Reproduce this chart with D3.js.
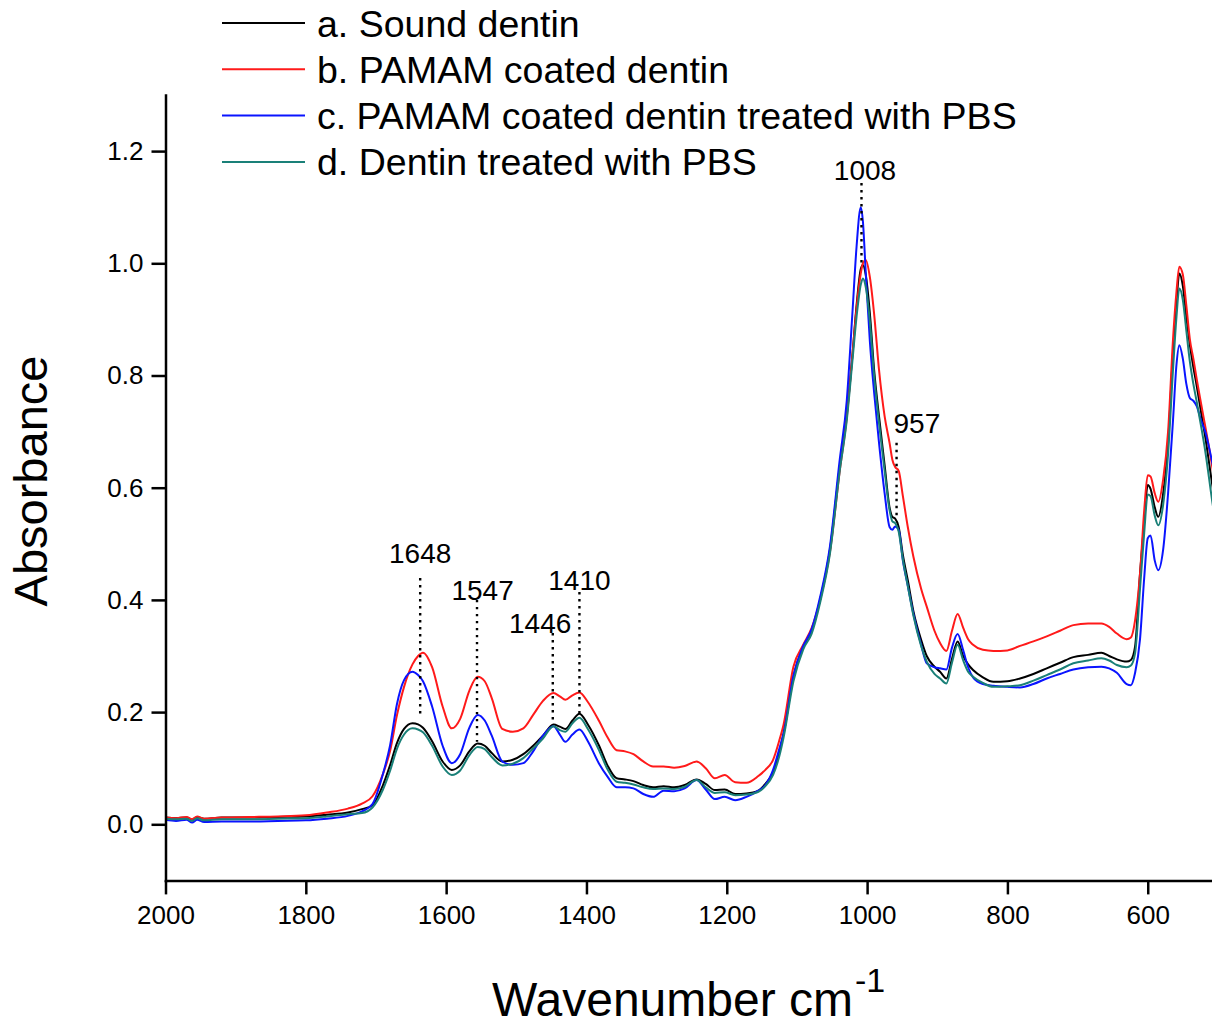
<!DOCTYPE html>
<html>
<head>
<meta charset="utf-8">
<script src="https://cdn.jsdelivr.net/npm/d3@7"></script>
<style>
  body { margin: 0; background: #fff; }
  svg { display: block; font-family: "Liberation Sans", Arial, sans-serif; }
  .axis path, .axis line { stroke: #000; stroke-width: 2.5; }
  .axis text { font-size: 26px; fill: #000; font-family: "Liberation Sans", Arial, sans-serif; }
  .spectrum { fill: none; stroke-width: 2; stroke-linejoin: round; }
</style>
</head>
<body>
<div id="chart"></div>
<script>
// wavenumber grid (cm-1)
const wavenumbers = [
  2000, 1985, 1970, 1962, 1955, 1945, 1920, 1880, 1840, 1800,
  1770, 1740, 1720, 1705, 1690, 1680, 1670, 1660, 1648, 1640,
  1633, 1620, 1605, 1592, 1580, 1567, 1555, 1545, 1535, 1520,
  1505, 1490, 1476, 1462, 1447, 1438, 1430, 1420, 1410, 1398,
  1382, 1370, 1357, 1345, 1333, 1319, 1305, 1290, 1275, 1260,
  1243, 1230, 1217, 1203, 1188, 1172, 1155, 1145, 1134, 1125,
  1119, 1105, 1091, 1079, 1067, 1053, 1039, 1029, 1021, 1015,
  1009, 1006, 1002, 996, 990, 983, 975, 968, 964, 960,
  955, 949, 942, 934, 923, 915, 904, 896, 887, 879,
  871, 863, 856, 849, 835, 820, 800, 782, 763, 744,
  725, 706, 685, 666, 655, 644, 630, 624, 618, 611,
  605, 600, 596, 590, 585, 578, 571, 564, 559, 555,
  550, 545, 540, 535, 530, 524, 518, 508, 500
];

// a. Sound dentin
const soundDentin = [
  .012, .011, .012, .008, .013, .010, .012, .012, .013, .014,
  .017, .021, .027, .034, .070, .105, .145, .170, .180, .178,
  .172, .148, .112, .097, .105, .130, .144, .140, .127, .112,
  .115, .125, .140, .158, .178, .174, .170, .185, .197, .178,
  .140, .105, .082, .080, .077, .070, .066, .068, .066, .070,
  .080, .072, .061, .062, .054, .055, .060, .072, .093, .130,
  .162, .263, .317, .346, .400, .489, .637, .730, .835, .925,
  .990, .997, .980, .910, .810, .727, .640, .565, .548, .545,
  .530, .480, .435, .380, .329, .300, .281, .272, .260, .295,
  .326, .300, .285, .275, .262, .254, .255, .260, .268, .278,
  .288, .298, .302, .306, .300, .294, .290, .293, .317, .447,
  .540, .605, .598, .565, .548, .590, .680, .840, .930, .982,
  .960, .905, .855, .815, .780, .735, .690, .605, .540
];

// b. PAMAM coated dentin
const pamamCoated = [
  .012, .011, .013, .009, .014, .010, .012, .013, .014, .016,
  .021, .028, .037, .050, .090, .130, .195, .245, .285, .300,
  .306, .280, .210, .171, .188, .238, .263, .255, .225, .170,
  .165, .171, .195, .220, .234, .228, .222, .230, .235, .218,
  .184, .155, .132, .130, .125, .112, .103, .103, .101, .104,
  .112, .100, .082, .088, .075, .074, .086, .097, .115, .150,
  .178, .281, .320, .350, .400, .485, .630, .725, .835, .920,
  .982, 1.000, 1.006, .975, .910, .810, .727, .680, .650, .637,
  .630, .585, .530, .477, .420, .388, .345, .323, .309, .345,
  .375, .350, .330, .320, .311, .309, .310, .318, .326, .335,
  .345, .355, .358, .358, .352, .340, .330, .333, .364, .447,
  .560, .622, .620, .590, .575, .615, .700, .864, .950, .994,
  .980, .925, .865, .830, .792, .750, .709, .637, .570
];

// c. PAMAM coated dentin treated with PBS
const pamamPBS = [
  .008, .006, .008, .003, .008, .004, .005, .005, .006, .007,
  .010, .015, .023, .036, .090, .140, .215, .257, .272, .266,
  .255, .210, .140, .109, .125, .172, .195, .185, .158, .112,
  .106, .109, .130, .158, .175, .160, .147, .160, .169, .148,
  .108, .085, .066, .066, .064, .054, .049, .060, .059, .064,
  .079, .062, .045, .049, .043, .049, .060, .070, .097, .135,
  .162, .265, .318, .348, .405, .495, .650, .755, .910, 1.030,
  1.100, 1.075, .985, .860, .770, .680, .590, .530, .525, .531,
  .525, .470, .425, .375, .320, .287, .280, .278, .276, .315,
  .339, .310, .280, .262, .250, .247, .245, .244, .250, .260,
  .268, .276, .280, .281, .278, .270, .250, .248, .270, .330,
  .440, .510, .515, .470, .453, .490, .590, .720, .820, .854,
  .830, .785, .760, .755, .745, .720, .700, .645, .600
];

// d. Dentin treated with PBS
const dentinPBS = [
  .010, .009, .010, .006, .011, .007, .009, .009, .010, .011,
  .014, .018, .020, .030, .062, .095, .135, .160, .171, .169,
  .164, .140, .103, .088, .096, .123, .138, .134, .120, .105,
  .108, .118, .135, .153, .175, .168, .165, .180, .190, .170,
  .132, .098, .076, .074, .071, .066, .063, .064, .063, .067,
  .079, .066, .056, .057, .052, .053, .058, .068, .088, .122,
  .155, .255, .312, .340, .395, .482, .630, .720, .825, .905,
  .962, .973, .958, .895, .800, .715, .630, .560, .540, .537,
  .522, .472, .425, .372, .318, .290, .268, .260, .251, .288,
  .320, .292, .272, .263, .252, .245, .246, .248, .256, .266,
  .276, .287, .292, .296, .292, .284, .280, .283, .305, .420,
  .520, .588, .585, .550, .533, .570, .660, .810, .905, .955,
  .935, .880, .825, .785, .752, .710, .665, .575, .510
];

const seriesNames = [
  "a. Sound dentin",
  "b. PAMAM coated dentin",
  "c. PAMAM coated dentin treated with PBS",
  "d. Dentin treated with PBS"
];
const seriesValues = [soundDentin, pamamCoated, pamamPBS, dentinPBS];
const seriesColors = ["#000000", "#ff1a1a", "#0a14ff", "#1a8078"];

// peak annotations: label, wavenumber of dotted line, its top/bottom, label anchor
const peakLabels = ["1648", "1547", "1446", "1410", "1008", "957"];
const peakLineX = [1637, 1556, 1448, 1410, 1008, 958];
const peakLineTop = [0.439, 0.400, 0.341, 0.414, 1.143, 0.680];
const peakLineBottom = [0.190, 0.147, 0.186, 0.191, 1.001, 0.548];
const peakLabelX = [1637, 1548, 1466, 1410, 1003, 929];
const peakLabelY = [0.466, 0.400, 0.341, 0.417, 1.148, 0.698];


SpectraChart = function(_parentElement) {
  this.parentElement = _parentElement;
  this.initVis();
};

SpectraChart.prototype.initVis = function() {
  let vis = this;

  vis.margin = { top: 95, left: 165.5 };
  vis.width = 1052.4;
  vis.height = 785.4;

  vis.svg = d3.select("#" + vis.parentElement).append("svg")
    .attr("width", 1212)
    .attr("height", 1025)
    .append("g")
    .attr("transform", "translate(" + vis.margin.left + "," + vis.margin.top + ")");

  // Scales (x reversed, like an IR spectrum)
  vis.x = d3.scaleLinear()
    .domain([2000, 500])
    .range([0, vis.width]);

  vis.y = d3.scaleLinear()
    .domain([-0.1, 1.3])
    .range([vis.height, 0]);

  vis.xAxis = d3.axisBottom(vis.x)
    .tickValues(d3.range(2000, 500, -200))
    .tickFormat(d3.format("d"))
    .tickSize(14)
    .tickSizeOuter(0)
    .tickPadding(11);

  vis.xMinor = d3.axisBottom(vis.x)
    .tickValues(d3.range(1900, 400, -200))
    .tickFormat("")
    .tickSize(7)
    .tickSizeOuter(0);

  vis.yAxis = d3.axisLeft(vis.y)
    .tickValues(d3.range(0, 7).map(function(d) { return d * 0.2; }))
    .tickFormat(d3.format(".1f"))
    .tickSize(14)
    .tickSizeOuter(0)
    .tickPadding(8);

  vis.yMinor = d3.axisLeft(vis.y)
    .tickValues(d3.range(-1, 14, 2).map(function(d) { return d / 10; }))
    .tickFormat("")
    .tickSize(7)
    .tickSizeOuter(0);

  vis.line = d3.line()
    .x(function(d) { return vis.x(d.w); })
    .y(function(d) { return vis.y(d.v); })
    .curve(d3.curveMonotoneX);

  vis.wrangleData();
};

SpectraChart.prototype.wrangleData = function() {
  let vis = this;

  vis.displayData = seriesNames.map(function(name, i) {
    return {
      name: name,
      color: seriesColors[i],
      values: wavenumbers.map(function(w, j) {
        return { w: w, v: seriesValues[i][j] };
      })
    };
  });

  vis.peaks = peakLabels.map(function(label, i) {
    return {
      label: label,
      x: peakLineX[i],
      top: peakLineTop[i],
      bottom: peakLineBottom[i],
      lx: peakLabelX[i],
      ly: peakLabelY[i]
    };
  });

  vis.updateVis();
};

SpectraChart.prototype.updateVis = function() {
  let vis = this;

  // spectra
  vis.svg.selectAll(".spectrum")
    .data(vis.displayData)
    .enter().append("path")
    .attr("class", "spectrum")
    .attr("stroke", function(d) { return d.color; })
    .attr("d", function(d) { return vis.line(d.values); });

  // dotted peak markers
  vis.svg.selectAll(".peak-line")
    .data(vis.peaks)
    .enter().append("line")
    .attr("class", "peak-line")
    .attr("x1", function(d) { return vis.x(d.x); })
    .attr("x2", function(d) { return vis.x(d.x); })
    .attr("y1", function(d) { return vis.y(d.top); })
    .attr("y2", function(d) { return vis.y(d.bottom); })
    .attr("stroke", "#000")
    .attr("stroke-width", 2.4)
    .attr("stroke-dasharray", "2.4,4.6");

  vis.svg.selectAll(".peak-label")
    .data(vis.peaks)
    .enter().append("text")
    .attr("class", "peak-label")
    .attr("x", function(d) { return vis.x(d.lx); })
    .attr("y", function(d) { return vis.y(d.ly); })
    .attr("text-anchor", "middle")
    .style("font-size", "28px")
    .text(function(d) { return d.label; });

  // axes
  vis.svg.append("g")
    .attr("class", "x-axis axis")
    .attr("transform", "translate(0," + vis.height + ")")
    .call(vis.xMinor)
    .call(vis.xAxis);

  vis.svg.append("g")
    .attr("class", "y-axis axis")
    .call(vis.yMinor)
    .call(vis.yAxis);

  vis.svg.selectAll(".axis .domain").attr("stroke-linecap", "square");

  // axis titles
  vis.svg.append("text")
    .attr("transform", "translate(" + (47 - vis.margin.left) + "," + (481 - vis.margin.top) + ") rotate(-90)")
    .attr("text-anchor", "middle")
    .style("font-size", "47px")
    .text("Absorbance");

  let xTitle = vis.svg.append("text")
    .attr("x", 492 - vis.margin.left)
    .attr("y", 1016 - vis.margin.top)
    .style("font-size", "48px");
  xTitle.append("tspan").text("Wavenumber cm");
  xTitle.append("tspan")
    .attr("dx", 2)
    .attr("dy", -24)
    .style("font-size", "34px")
    .text("-1");

  // legend
  let legend = vis.svg.selectAll(".legend")
    .data(vis.displayData)
    .enter().append("g")
    .attr("class", "legend")
    .attr("transform", function(d, i) {
      return "translate(" + (222 - vis.margin.left) + "," + (23 + i * 46.3 - vis.margin.top) + ")";
    });

  legend.append("line")
    .attr("x1", 0)
    .attr("x2", 83)
    .attr("stroke", function(d) { return d.color; })
    .attr("stroke-width", 2);

  legend.append("text")
    .attr("x", 95)
    .attr("dy", "0.36em")
    .style("font-size", "37.5px")
    .text(function(d) { return d.name; });
};

new SpectraChart("chart");
</script>
</body>
</html>
